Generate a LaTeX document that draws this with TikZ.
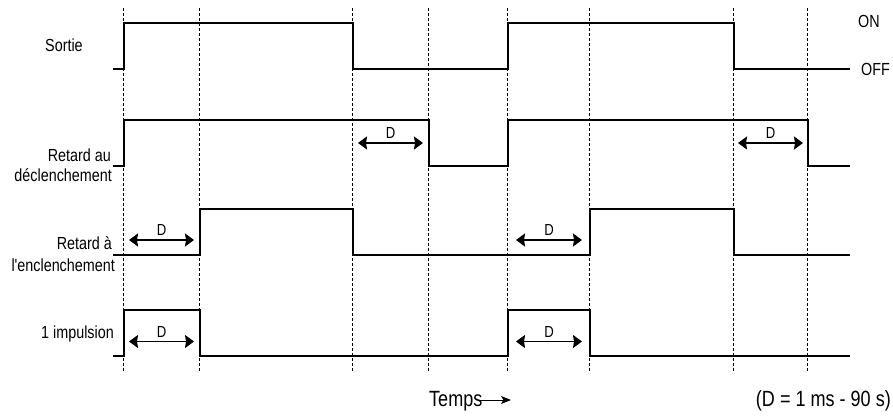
\documentclass[tikz,border=0pt]{standalone}
\usepackage{fontspec}
\setmainfont[FakeStretch=0.82, Ligatures=TeXOff]{Liberation Sans}
\usetikzlibrary{arrows.meta,calc}
\begin{document}
\begin{tikzpicture}[x=1pt,y=-1pt,
  sig/.style={line width=1.2pt, line join=miter},
  gridline/.style={line width=0.8pt, dash pattern=on 3pt off 2pt},
  dur/.style={line width=1.6pt, {Stealth[length=9pt,width=13pt,inset=1pt]}-{Stealth[length=9pt,width=13pt,inset=1pt]}},
  lbl/.style={font=\fontsize{17.5}{21}\selectfont, inner sep=0pt, anchor=base east},
  lblw/.style={font=\fontsize{17.5}{21}\selectfont, inner sep=0pt, anchor=base west},
  dlbl/.style={font=\fontsize{16}{18}\selectfont, inner sep=0pt, anchor=base},
  big/.style={font=\fontsize{22}{25}\selectfont, inner sep=0pt},
]
\useasboundingbox (0,0) rectangle (893,415);
% vertical dashed time markers
\foreach \x [count=\i] in {123,199,352,428,507,589,733,807} {
  \coordinate (top\i) at (\x,8);
  \coordinate (bot\i) at (\x,372);
  \draw[gridline] (top\i) -- (bot\i);
}
% Sortie
\draw[sig] (113,69) -| (124,23) -| (353,69) -| (508,23) -| (734,69) -- (850,69);
% Retard au declenchement
\draw[sig] (113,166) -| (124,120) -| (429,166) -| (508,120) -| (808,166) -- (850,166);
% Retard a l'enclenchement
\draw[sig] (113,255) -| (200,209) -| (353,255) -| (590,209) -| (734,255) -- (850,255);
% 1 impulsion
\draw[sig] (113,356) -| (124,310) -| (200,356) -| (508,310) -| (590,356) -- (850,356);

% durations D
\coordinate (a1) at (358,143); \coordinate (b1) at (423,143);
\coordinate (a2) at (738,143); \coordinate (b2) at (803,143);
\coordinate (a3) at (129,240); \coordinate (b3) at (194,240);
\coordinate (a4) at (516,240); \coordinate (b4) at (582,240);
\coordinate (a5) at (129,341.5); \coordinate (b5) at (194,341.5);
\coordinate (a6) at (516,341.5); \coordinate (b6) at (582,341.5);
\foreach \i in {1,...,6} {
  \draw[dur] (a\i) -- (b\i);
  \node[dlbl] (d\i) at ($(a\i)!0.5!(b\i)+(0,-4.5)$) {D};
}

% labels
\node[lblw] (sortie) at (45,51.5) {Sortie};
\node[lbl] (rd1) at (111,161) {Retard au};
\node[lbl] (rd2) at (112,181.5) {déclenchement};
\node[lbl] (re1) at (112,249) {Retard à};
\node[lbl] (re2) at (115,271) {l'enclenchement};
\node[lbl] (imp) at (114,338.5) {1 impulsion};
\node[lblw] (on) at (858,27.5) {ON};
\node[lblw] (off) at (861,75) {OFF};
\node[big, anchor=base west] (temps) at (429,406.5) {Temps};
\coordinate (tarr) at (511,400);
\draw[line width=1pt, -{Stealth[length=10pt,width=8pt,inset=2.5pt]}] (480,400) -- (tarr);
\node[big, anchor=base east, font=\fontsize{22}{25}\selectfont] (dnote) at (891,406.5) {(D = 1 ms - 90 s)};
\end{tikzpicture}
\end{document}
